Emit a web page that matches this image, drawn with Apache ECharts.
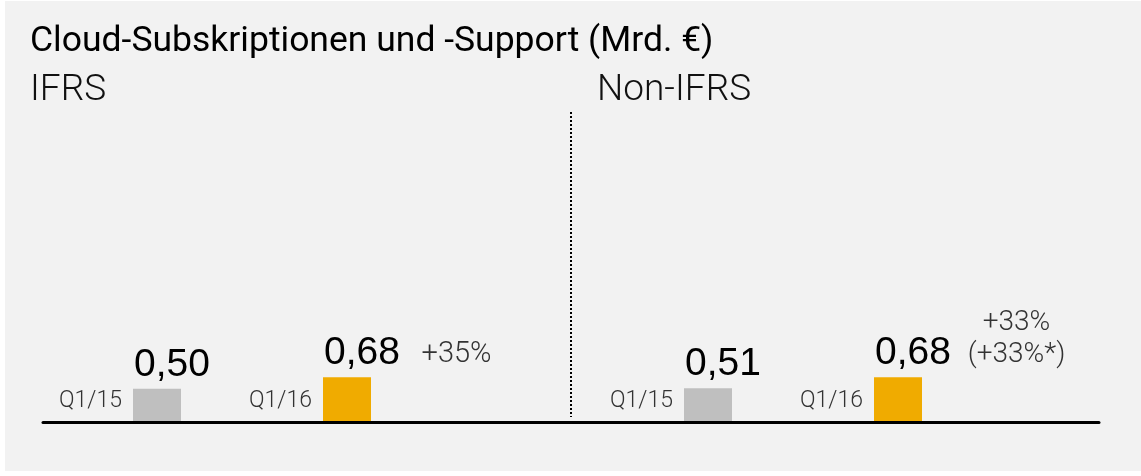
<!DOCTYPE html>
<html>
<head>
<meta charset="utf-8">
<title>Cloud-Subskriptionen und -Support</title>
<script src="https://cdn.jsdelivr.net/npm/echarts@6/dist/echarts.min.js"></script>
<style>
  html, body { margin: 0; padding: 0; background: #ffffff; }
  #main { position: absolute; left: 5px; top: 1px; width: 1136px; height: 470px; }
</style>
</head>
<body>
<div id="main"></div>
<script>
// data
const categories = ['Q1/15', 'Q1/16']
const ifrsValues = [0.50, 0.68]
const nonIfrsValues = [0.51, 0.68]
const ifrsGrowth = ['+35%']
const nonIfrsGrowth = ['+33%', '(+33%*)']
const barColors = ['#bfbfbf', '#f0ab00']

const chart = echarts.init(document.getElementById('main'))

const sans = "'Liberation Sans', Arial, sans-serif"
const light = "Roboto, 'Liberation Sans', sans-serif"

const fmt = v => v.toFixed(2).replace('.', ',')

function barAxis(gridIndex) {
  return {
    type: 'category',
    gridIndex,
    data: categories,
    axisLine: { show: false },
    axisTick: { show: false },
    splitLine: { show: false },
    axisLabel: {
      inside: true,
      margin: 8,
      align: 'right',
      verticalAlign: 'bottom',
      padding: [0, 35, 0, 0],
      fontFamily: light,
      fontWeight: 300,
      fontSize: 23,
      lineHeight: 23,
      color: '#333333',
    },
  }
}

function valueAxis(gridIndex) {
  return { type: 'value', gridIndex, min: 0, max: 5, show: false }
}

function barSeries(index, values, growth, growthOffset, growthAlign) {
  return {
    type: 'bar',
    xAxisIndex: index,
    yAxisIndex: index,
    barWidth: 48,
    data: values,
    itemStyle: {
      color: p => barColors[p.dataIndex],
    },
    label: {
      show: true,
      position: [1, -4],
      align: 'left',
      verticalAlign: 'bottom',
      formatter: p => fmt(p.value),
      fontFamily: sans,
      fontSize: 39,
      lineHeight: 39,
      color: '#000000',
    },
    markPoint: {
      symbol: 'rect',
      symbolSize: 1,
      itemStyle: { color: 'transparent' },
      label: {
        show: true,
        position: growthOffset,
        align: growthAlign,
        verticalAlign: 'bottom',
        formatter: growth.join('\n'),
        fontFamily: light,
        fontWeight: 300,
        fontSize: growth.length > 1 ? 28 : 29,
        lineHeight: growth.length > 1 ? 32 : 29,
        color: '#333333',
      },
      data: [{ coord: [categories[1], values[1]] }],
    },
  }
}

const option = {
  backgroundColor: '#f2f2f2',
  animation: false,
  title: [
    {
      text: 'Cloud-Subskriptionen und -Support (Mrd. €)',
      left: 25,
      top: 23,
      padding: 0,
      textStyle: { fontFamily: light, fontSize: 35.5, lineHeight: 36, fontWeight: 'normal', color: '#000000' },
    },
    {
      text: 'IFRS',
      left: 25,
      top: 71,
      padding: 0,
      textStyle: { fontFamily: light, fontSize: 37, lineHeight: 37, fontWeight: 300, color: '#111111' },
    },
    {
      text: 'Non-IFRS',
      left: 592,
      top: 71,
      padding: 0,
      textStyle: { fontFamily: light, fontSize: 37, lineHeight: 37, fontWeight: 300, color: '#111111' },
    },
  ],
  grid: [
    { left: 57, width: 380, top: 98, bottom: 50 },
    { left: 608, width: 380, top: 98, bottom: 50 },
    // baseline running under both panels
    { left: 38, right: 42, top: 98, bottom: 49 },
  ],
  xAxis: [
    barAxis(0),
    barAxis(1),
    {
      type: 'value',
      gridIndex: 2,
      min: 0,
      max: 1,
      axisLine: { show: true, lineStyle: { color: '#000000', width: 3 } },
      axisTick: { show: false },
      axisLabel: { show: false },
      splitLine: { show: false },
    },
  ],
  yAxis: [valueAxis(0), valueAxis(1), valueAxis(2)],
  graphic: [
    {
      type: 'line',
      shape: { x1: 566, y1: 111, x2: 566, y2: 416 },
      style: { stroke: '#000000', lineWidth: 2, lineDash: [2, 2] },
    },
  ],
  series: [
    barSeries(0, ifrsValues, ifrsGrowth, [75, -7], 'left'),
    barSeries(1, nonIfrsValues, nonIfrsGrowth, [119, -6], 'center'),
  ],
}

chart.setOption(option)
window.addEventListener('resize', () => chart.resize())
</script>
</body>
</html>
